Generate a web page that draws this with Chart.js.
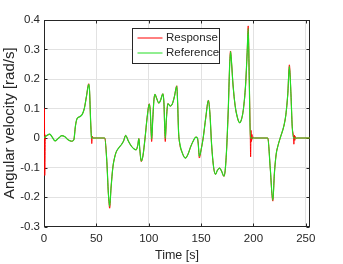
<!DOCTYPE html>
<html>
<head>
<meta charset="utf-8">
<script src="https://cdn.jsdelivr.net/npm/chart.js@4.4.1/dist/chart.umd.min.js"></script>
<style>
  body { margin: 0; background: #fff; }
  #wrap { width: 343px; height: 264px; }
</style>
</head>
<body>
<div id="wrap"><canvas id="chart" width="343" height="264"></canvas></div>
<script>
// reference signal (time in s, angular velocity in rad/s)
const refTime = [0, 2.5, 5.5, 8, 10.5, 13.5, 17, 20, 23, 26.5, 28.5, 30, 31.5, 34, 36.5, 38.5, 40.5, 42.7, 43.5, 44.5, 45.3, 46,
  58, 60, 61.5, 62.7, 64, 65.8, 67.5, 69, 71.5, 74, 76, 78, 80.5, 83.5, 86, 88, 89.5, 90.6, 91.5, 92.9, 94.5, 96.5, 98.5,
  100.5, 101.5, 102.8, 103.8, 105, 106, 107.5, 109.7, 111.5, 113.5, 114.5, 115.8, 116.8, 118.3, 120.5, 122.5, 124.5, 126.8,
  127.6, 128.5, 129.5, 132, 135, 137.5, 140, 142.5, 145, 146.5, 147.3, 148.3, 150, 152, 154.5, 157, 158.5, 160, 162, 163.8,
  165.5, 167.6, 169.5, 171.8, 173, 174.5, 176, 177.2, 178.1, 179, 180.5, 182.5, 184.5, 186.7, 188.5, 190.5, 192.5, 194, 195,
  196, 197, 213.7, 216, 218.5, 220, 221.7, 223.5, 226, 229, 231, 232.8, 234.3, 235.8, 237, 238.3, 254];
const refValue = [0, 0.008, 0.013, 0.002, -0.01, -0.002, 0.008, 0.004, -0.006, -0.011, -0.006, 0.04, 0.065, 0.072, 0.08, 0.1, 0.14, 0.182, 0.16, 0.06, 0.002, 0,
  0, -0.08, -0.19, -0.232, -0.17, -0.098, -0.065, -0.047, -0.033, -0.022, -0.01, 0.009, -0.01, -0.028, -0.037, -0.04, -0.025, -0.002, -0.04, -0.078, -0.06, 0.0, 0.07,
  0.115, 0.09, -0.004, 0.06, 0.13, 0.148, 0.135, 0.118, 0.13, 0.15, 0.12, -0.002, 0.06, 0.117, 0.108, 0.115, 0.14, 0.176,
  0.12, 0.02, -0.015, -0.05, -0.068, -0.055, -0.03, -0.01, 0.003, 0.0, -0.02, -0.062, -0.04, 0.0, 0.07, 0.128, 0.08, -0.02, -0.1, -0.123,
  -0.11, -0.102, -0.112, -0.129, -0.11, -0.03, 0.1, 0.24, 0.293, 0.26, 0.18, 0.11, 0.072, 0.052, 0.062, 0.1, 0.18, 0.29, 0.372,
  0.2, 0, 0, -0.1, -0.211, -0.12, -0.055, -0.025, 0.005, 0.04, 0.08, 0.15, 0.243, 0.15, 0.04, 0, 0];

// measured response
const respTime = [0, 0.4, 0.7, 1.3, 2.5, 5.5, 8, 10.5, 13.5, 17, 20, 23, 26.5, 28.5, 30, 31.5, 34, 36.5, 38.5, 40.5, 42.7, 43.5, 44.5, 45.3, 45.6, 46.1, 46.7,
  58, 60, 61.5, 62.7, 64, 65.8, 67.5, 69, 71.5, 74, 76, 78, 80.5, 83.5, 86, 88, 89.5, 90.6, 91.5, 92.9, 94.5, 96.5, 98.5,
  100.5, 101.5, 102.8, 103.8, 105, 106, 107.5, 109.7, 111.5, 113.5, 114.5, 115.8, 116.8, 118.3, 120.5, 122.5, 124.5, 126.8,
  127.6, 128.5, 129.5, 132, 135, 137.5, 140, 142.5, 145, 146.5, 147.3, 148.3, 150, 152, 154.5, 157, 158.5, 160, 162, 163.8,
  165.5, 167.6, 169.5, 171.8, 173, 174.5, 176, 177.2, 178.1, 179, 180.5, 182.5, 184.5, 186.7, 188.5, 190.5, 192.5, 194, 195,
  196, 197, 197.3, 197.7, 198.1, 198.6, 199.2, 200, 201, 213.7, 216, 218.5, 220, 221.7, 223.5, 226, 229, 231, 232.8, 234.3,
  235.8, 237, 238.3, 238.6, 239, 239.5, 240.1, 240.8, 241.6, 254];
const respValue = [0, 0.1, -0.127, 0.01, 0.008, 0.013, 0.002, -0.01, -0.002, 0.008, 0.004, -0.006, -0.011, -0.006, 0.04, 0.065, 0.072, 0.08, 0.1, 0.14, 0.184, 0.16, 0.06, 0.002, -0.019, 0.006, 0,
  0, -0.08, -0.19, -0.238, -0.17, -0.098, -0.065, -0.047, -0.033, -0.022, -0.01, 0.009, -0.01, -0.028, -0.037, -0.04, -0.025, -0.002, -0.04, -0.08, -0.06, 0.0, 0.07,
  0.116, 0.09, -0.012, 0.06, 0.13, 0.148, 0.135, 0.118, 0.13, 0.15, 0.12, -0.012, 0.06, 0.117, 0.108, 0.115, 0.14, 0.177,
  0.12, 0.02, -0.018, -0.05, -0.068, -0.055, -0.03, -0.01, 0.003, 0.0, -0.02, -0.068, -0.04, 0.0, 0.07, 0.128, 0.08, -0.02, -0.1, -0.123,
  -0.11, -0.102, -0.112, -0.13, -0.11, -0.03, 0.1, 0.24, 0.295, 0.26, 0.18, 0.11, 0.072, 0.052, 0.062, 0.1, 0.18, 0.29, 0.38,
  0.2, 0, -0.064, 0.026, -0.012, 0.012, -0.004, 0.003, 0, 0, -0.1, -0.214, -0.12, -0.055, -0.025, 0.005, 0.04, 0.08, 0.15, 0.248,
  0.15, 0.04, 0.002, -0.021, 0.01, -0.008, 0.005, -0.002, 0, 0];

const xTicks = [0, 50, 100, 150, 200, 250];
const yTicks = [-0.3, -0.2, -0.1, 0, 0.1, 0.2, 0.3, 0.4];
const seriesNames = ['Response', 'Reference'];
const seriesColors = ['#ff0000', '#22dd22'];

const axisColor = '#262626';
const gridColor = '#e2e2e2';
const fontFamily = '"Liberation Sans", Arial, Helvetica, sans-serif';

function toPoints(times, values) {
    return times.map((t, i) => ({ x: t, y: values[i] }));
}

// box around the axes with inward ticks (under the lines), legend on top
const framePlugin = {
    id: 'frame',
    beforeDatasetsDraw(chart) {
        const { ctx, chartArea: a, scales: { x, y } } = chart;
        const L = Math.round(a.left) + 0.5, R = Math.round(a.right) - 0.5;
        const T = Math.round(a.top) + 0.5, B = Math.round(a.bottom) - 0.5;
        const tl = 3;
        ctx.save();
        ctx.strokeStyle = axisColor;
        ctx.lineWidth = 1;
        ctx.beginPath();
        x.ticks.forEach(t => {
            const px = Math.round(x.getPixelForValue(t.value)) + 0.5;
            ctx.moveTo(px, B); ctx.lineTo(px, B - tl);
            ctx.moveTo(px, T); ctx.lineTo(px, T + tl);
        });
        y.ticks.forEach(t => {
            const py = Math.round(y.getPixelForValue(t.value)) + 0.5;
            ctx.moveTo(L, py); ctx.lineTo(L + tl, py);
            ctx.moveTo(R, py); ctx.lineTo(R - tl, py);
        });
        ctx.stroke();
        ctx.strokeRect(L, T, R - L, B - T);
        ctx.restore();
    },
    afterDraw(chart) {
        const { ctx, chartArea: a } = chart;
        const bx = Math.round(a.left + 88) + 0.5, by = Math.round(a.top + 8) + 0.5;
        const bw = 87, bh = 35;
        ctx.save();
        ctx.fillStyle = '#fff';
        ctx.fillRect(bx, by, bw, bh);
        ctx.strokeStyle = axisColor;
        ctx.lineWidth = 1;
        ctx.strokeRect(bx, by, bw, bh);
        ctx.font = '11.5px ' + fontFamily;
        ctx.textBaseline = 'middle';
        seriesNames.forEach((name, i) => {
            const ry = by + 9.5 + i * 15;
            ctx.strokeStyle = seriesColors[i];
            ctx.beginPath();
            ctx.moveTo(bx + 5, ry); ctx.lineTo(bx + 30, ry);
            ctx.stroke();
            ctx.fillStyle = axisColor;
            ctx.fillText(name, bx + 33.5, ry);
        });
        ctx.restore();
    }
};

const tickFont = { family: fontFamily, size: 11.5 };

new Chart(document.getElementById('chart'), {
    type: 'line',
    data: {
        datasets: [
            {
                label: seriesNames[0],
                data: toPoints(respTime, respValue),
                borderColor: seriesColors[0],
                borderWidth: 1,
                pointRadius: 0,
                cubicInterpolationMode: 'monotone',
                order: 1
            },
            {
                label: seriesNames[1],
                data: toPoints(refTime, refValue),
                borderColor: seriesColors[1],
                borderWidth: 1.2,
                pointRadius: 0,
                cubicInterpolationMode: 'monotone',
                order: 0
            }
        ]
    },
    options: {
        responsive: false,
        animation: false,
        layout: { padding: { left: 0, top: 20, right: 33, bottom: 0 } },
        plugins: {
            legend: { display: false },
            tooltip: { enabled: false }
        },
        scales: {
            x: {
                type: 'linear',
                min: 0,
                max: 254,
                afterBuildTicks: s => { s.ticks = xTicks.map(v => ({ value: v })); },
                afterFit: s => { s.height = 37.5; },
                grid: { color: gridColor, drawTicks: false },
                border: { display: false },
                ticks: { padding: 5, color: axisColor, font: tickFont, maxRotation: 0, callback: v => String(v) },
                title: {
                    display: true, text: 'Time [s]', color: axisColor,
                    font: { family: fontFamily, size: 12.5 }, padding: { top: 0, bottom: 1 }
                }
            },
            y: {
                min: -0.3,
                max: 0.4,
                afterBuildTicks: s => { s.ticks = yTicks.map(v => ({ value: v })); },
                afterFit: s => { s.width = 44; },
                grid: { color: gridColor, drawTicks: false },
                border: { display: false },
                ticks: { padding: 4, color: axisColor, font: tickFont, callback: v => (v === 0 ? '0' : v.toFixed(1)) },
                title: {
                    display: true, text: 'Angular velocity [rad/s]', color: axisColor,
                    font: { family: fontFamily, size: 15 }, padding: { top: 1, bottom: 0 }
                }
            }
        }
    },
    plugins: [framePlugin]
});
</script>
</body>
</html>
